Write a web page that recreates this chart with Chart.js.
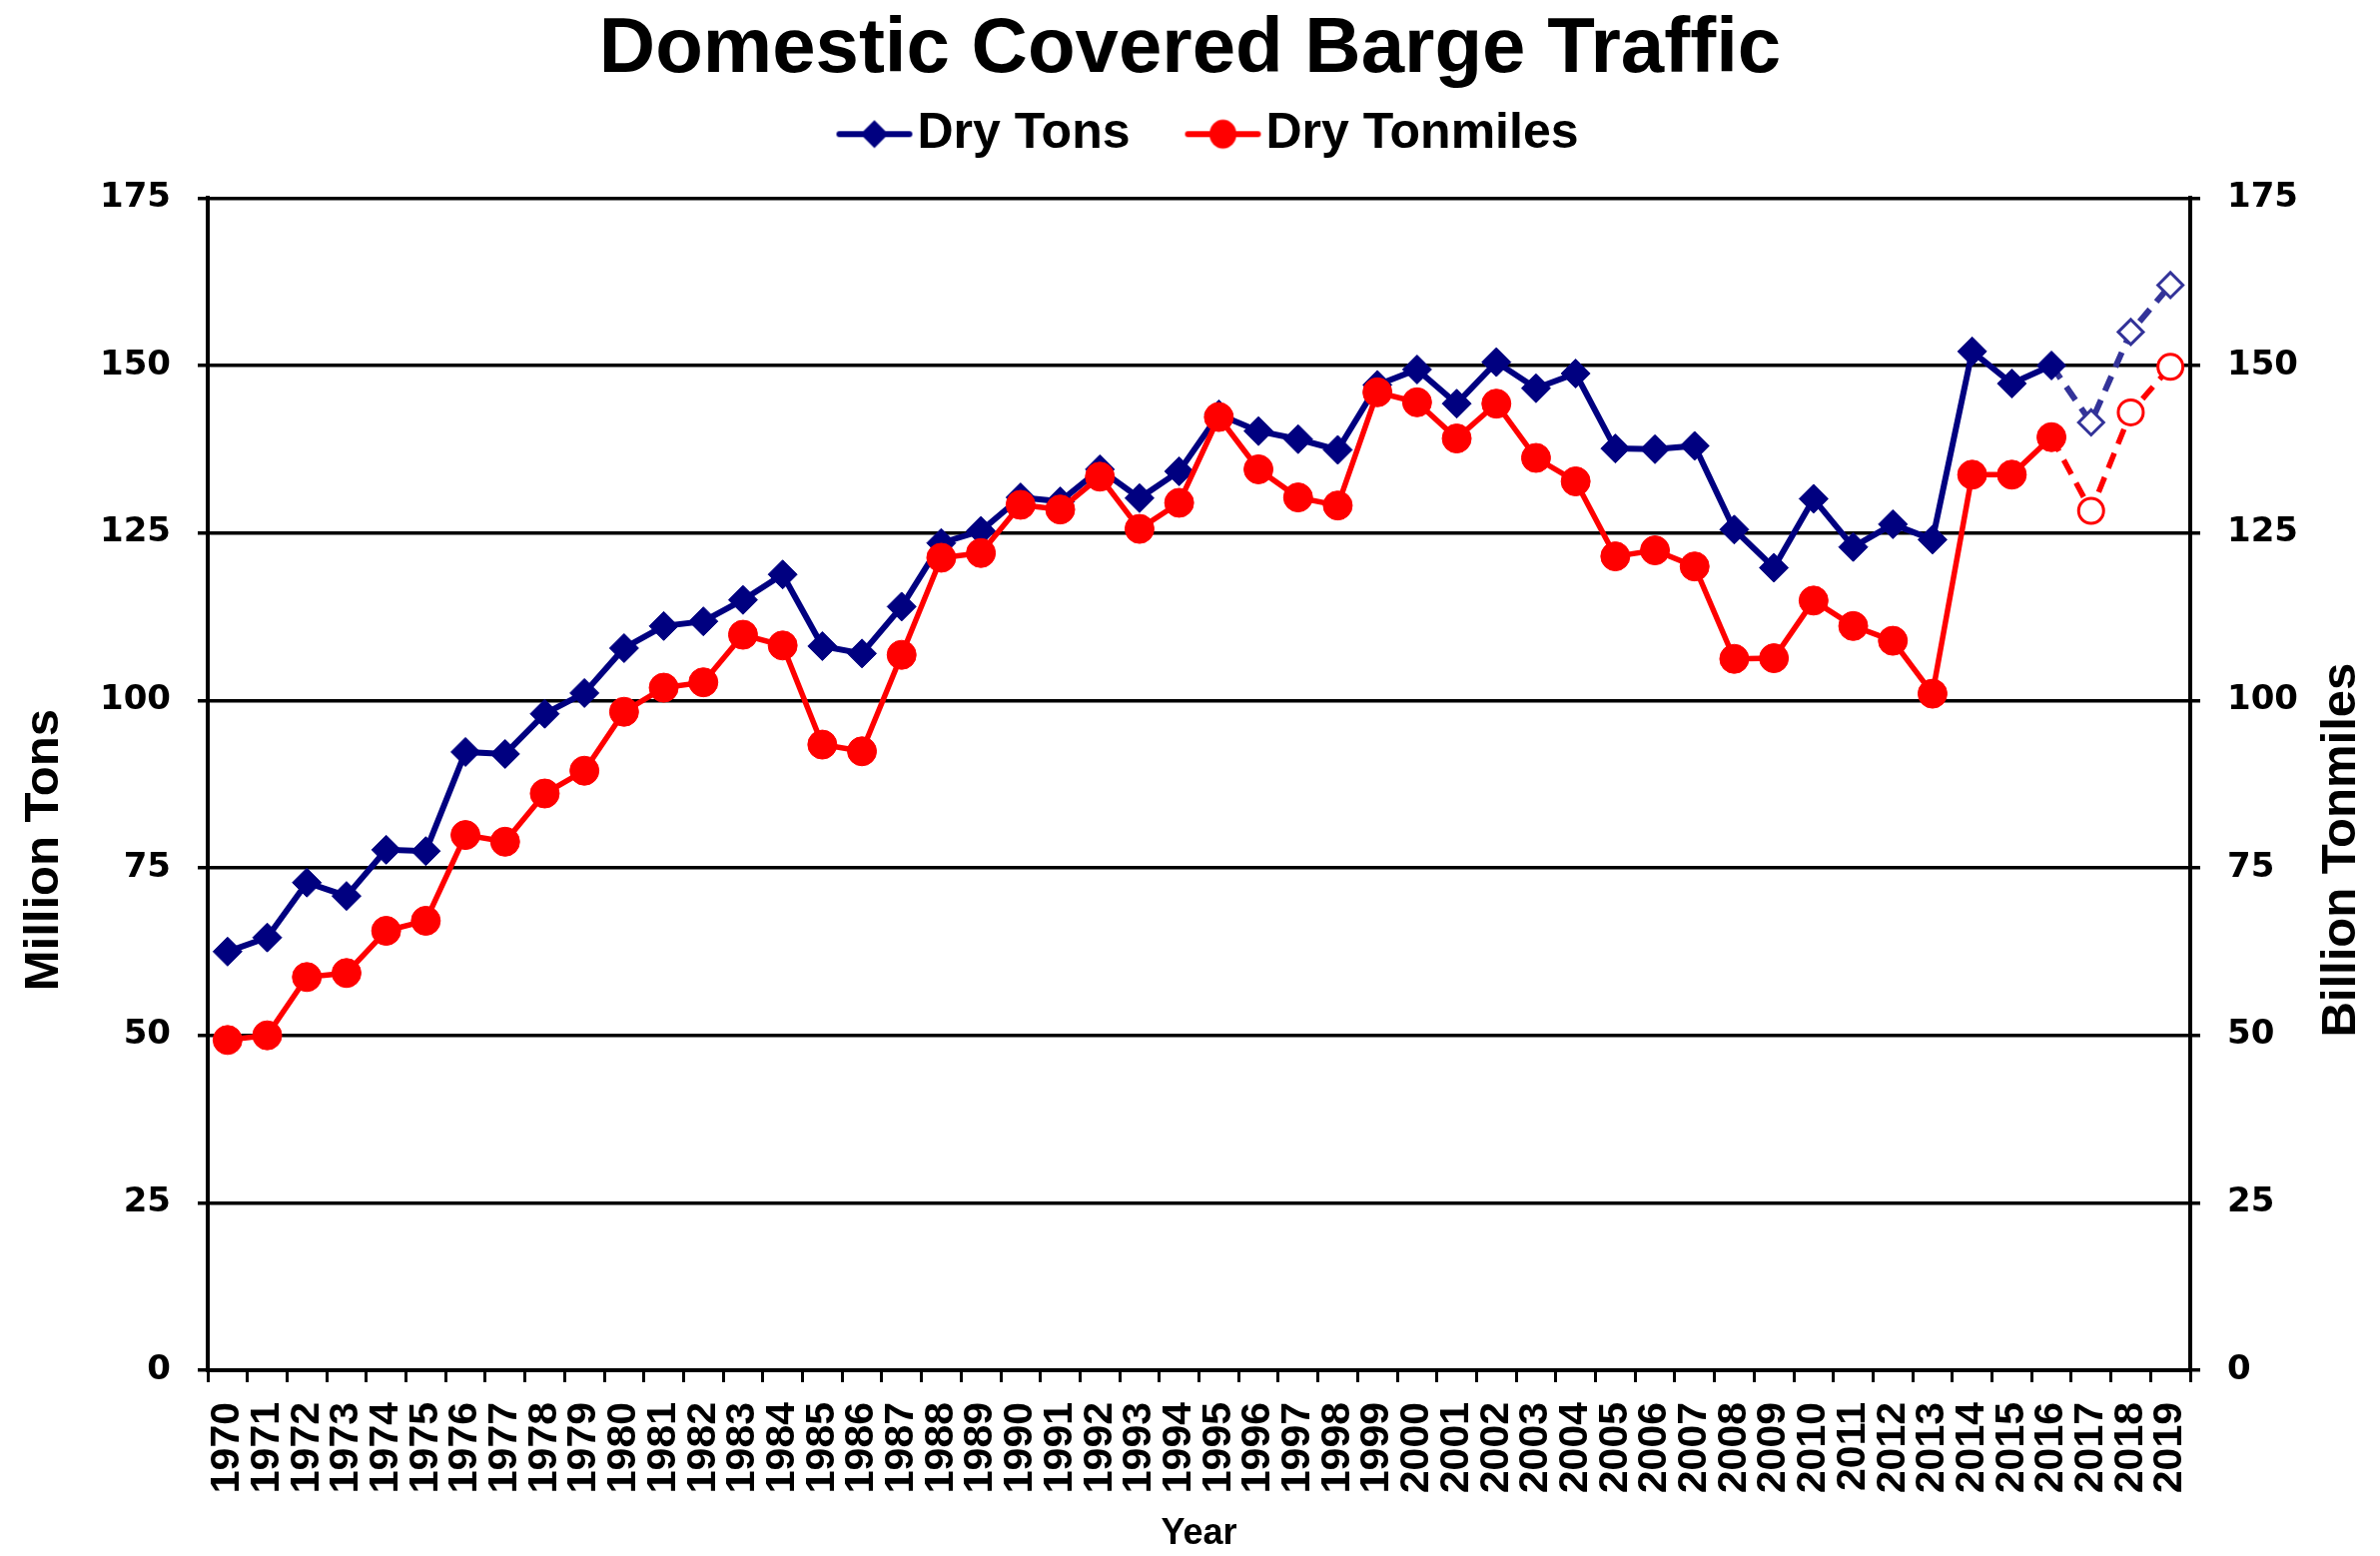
<!DOCTYPE html>
<html>
<head>
<meta charset="utf-8">
<title>Domestic Covered Barge Traffic</title>
<script src="https://cdn.jsdelivr.net/npm/chart.js@4/dist/chart.umd.min.js"></script>
<style>
  html, body { margin: 0; padding: 0; background: #fff; }
  #wrap { width: 2383px; height: 1558px; }
</style>
</head>
<body>
<div id="wrap"><canvas id="bargeChart" width="2383" height="1558"></canvas></div>
<script>
// ---------- data ----------
const years = [
  '1970','1971','1972','1973','1974','1975','1976','1977','1978','1979',
  '1980','1981','1982','1983','1984','1985','1986','1987','1988','1989',
  '1990','1991','1992','1993','1994','1995','1996','1997','1998','1999',
  '2000','2001','2002','2003','2004','2005','2006','2007','2008','2009',
  '2010','2011','2012','2013','2014','2015','2016','2017','2018','2019'
];

// million tons (left axis)
const dryTons = [
  62.5, 64.6, 72.8, 70.8, 77.7, 77.5, 92.3, 92.0, 98.0, 101.1,
  107.8, 111.1, 111.8, 115.0, 118.8, 108.1, 107.0, 114.0, 123.5, 125.3,
  130.3, 129.7, 134.5, 130.2, 134.2, 142.7, 140.2, 139.0, 137.4, 147.1,
  149.4, 144.3, 150.5, 146.6, 148.8, 137.6, 137.5, 138.0, 125.5, 119.8,
  130.1, 122.9, 126.3, 124.0, 152.1, 147.3, 150.0, 141.5, 155.0, 162.0
];

// billion ton-miles (right axis)
const dryTonmiles = [
  49.3, 50.0, 58.7, 59.3, 65.6, 67.1, 79.9, 78.9, 86.1, 89.5,
  98.3, 101.9, 102.7, 109.8, 108.2, 93.4, 92.4, 106.8, 121.3, 122.0,
  129.2, 128.5, 133.4, 125.6, 129.5, 142.3, 134.5, 130.3, 129.1, 146.0,
  144.5, 139.1, 144.3, 136.2, 132.7, 121.5, 122.4, 120.0, 106.2, 106.3,
  114.9, 111.1, 108.9, 101.0, 133.7, 133.7, 139.3, 128.3, 143.0, 149.8
];

// years shown as projections (dashed line, open markers)
const projectedYears = ['2017', '2018', '2019'];

const yTicks = [0, 25, 50, 75, 100, 125, 150, 175];

// ---------- style ----------
const NAVY = '#000080';
const NAVY_PROJ = '#333399';
const RED = '#ff0000';
const BLACK = '#000000';
const FONT = '"Liberation Sans", Arial, sans-serif';
const LEGEND_SIZE = 50;
const LEGEND_BOX = 91;
const projStart = years.indexOf(projectedYears[0]);
const isProj = i => i >= projStart;

// legend swatch: line with marker, drawn to a small canvas
function legendSwatch(color, shape) {
  const c = document.createElement('canvas');
  c.width = 78; c.height = 34;
  const g = c.getContext('2d');
  g.strokeStyle = color; g.fillStyle = color;
  g.lineWidth = 6; g.lineCap = 'round';
  g.beginPath(); g.moveTo(4, 17); g.lineTo(74, 17); g.stroke();
  g.beginPath();
  if (shape === 'diamond') {
    g.moveTo(39, 3); g.lineTo(53, 17); g.lineTo(39, 31); g.lineTo(25, 17); g.closePath();
  } else {
    g.ellipse(39, 17, 13.5, 14.5, 0, 0, Math.PI * 2);
  }
  g.fill();
  return c;
}
const swatches = [legendSwatch(NAVY, 'diamond'), legendSwatch(RED, 'circle')];

// draws the line+marker swatch just before each legend text
const legendSwatches = {
  id: 'legendSwatches',
  afterDraw(chart) {
    const boxes = chart.legend && chart.legend.legendHitBoxes;
    if (!boxes) return;
    const ctx = chart.ctx;
    boxes.forEach((hb, i) => {
      const textX = hb.left + LEGEND_BOX + LEGEND_SIZE / 2;
      const cy = hb.top + hb.height / 2;
      ctx.drawImage(swatches[i], textX - 82, cy - 17);
    });
  }
};

// axis titles drawn upright-reading (both sides read bottom to top)
const sideTitles = {
  id: 'sideTitles',
  afterDraw(chart) {
    const { ctx, chartArea } = chart;
    const cy = (chartArea.top + chartArea.bottom) / 2 + 66;
    ctx.save();
    ctx.font = 'bold 49px ' + FONT;
    ctx.fillStyle = BLACK;
    ctx.textAlign = 'center';
    ctx.textBaseline = 'middle';
    [[44, 'Million Tons'], [chartArea.right + 151, 'Billion Tonmiles']].forEach(([x, t]) => {
      ctx.save();
      ctx.translate(x, cy);
      ctx.rotate(-Math.PI / 2);
      ctx.fillText(t, 0, 0);
      ctx.restore();
    });
    ctx.restore();
  }
};

const yTickFont = { family: '"DejaVu Sans", sans-serif', weight: 'bold', size: 34 };

new Chart(document.getElementById('bargeChart'), {
  type: 'line',
  data: {
    labels: years,
    datasets: [
      {
        label: 'Dry Tons',
        data: dryTons,
        yAxisID: 'y',
        order: 2,
        borderColor: NAVY,
        borderWidth: 6,
        tension: 0,
        pointStyle: 'rectRot',
        pointRadius: c => isProj(c.dataIndex) ? 12.5 : 14.5,
        pointBorderWidth: c => isProj(c.dataIndex) ? 3 : 1,
        pointBackgroundColor: c => isProj(c.dataIndex) ? '#ffffff' : NAVY,
        pointBorderColor: c => isProj(c.dataIndex) ? NAVY_PROJ : NAVY,
        segment: {
          borderDash: s => isProj(s.p1DataIndex) ? [16, 10] : undefined,
          borderColor: s => isProj(s.p1DataIndex) ? NAVY_PROJ : undefined
        }
      },
      {
        label: 'Dry Tonmiles',
        data: dryTonmiles,
        yAxisID: 'y2',
        order: 1,
        borderColor: RED,
        borderWidth: 5.5,
        tension: 0,
        pointStyle: 'circle',
        pointRadius: c => isProj(c.dataIndex) ? 12.5 : 14.5,
        pointBorderWidth: c => isProj(c.dataIndex) ? 3 : 1,
        pointBackgroundColor: c => isProj(c.dataIndex) ? '#ffffff' : RED,
        pointBorderColor: RED,
        segment: {
          borderDash: s => isProj(s.p1DataIndex) ? [16, 10] : undefined
        }
      }
    ]
  },
  options: {
    responsive: false,
    animation: false,
    layout: { padding: 0 },
    plugins: {
      title: {
        display: true,
        text: 'Domestic Covered Barge Traffic',
        color: BLACK,
        font: { family: FONT, weight: 'bold', size: 78, lineHeight: 0.26 },
        padding: { top: 40, bottom: 0 }
      },
      legend: {
        display: true,
        position: 'top',
        labels: {
          color: BLACK,
          font: { family: FONT, weight: 'bold', size: LEGEND_SIZE },
          boxWidth: LEGEND_BOX,
          boxHeight: 108,
          padding: 20,
          generateLabels: () => [
            { text: 'Dry Tons', fillStyle: 'rgba(0,0,0,0)', strokeStyle: 'rgba(0,0,0,0)', lineWidth: 0, datasetIndex: 0, fontColor: BLACK },
            { text: 'Dry Tonmiles', fillStyle: 'rgba(0,0,0,0)', strokeStyle: 'rgba(0,0,0,0)', lineWidth: 0, datasetIndex: 1, fontColor: BLACK }
          ]
        }
      },
      tooltip: { enabled: false }
    },
    scales: {
      x: {
        type: 'category',
        offset: true,
        grid: { offset: true, drawOnChartArea: false, color: BLACK, lineWidth: 3, tickLength: 12 },
        border: { color: BLACK, width: 4 },
        ticks: {
          autoSkip: false, minRotation: 90, maxRotation: 90, padding: 20, color: BLACK,
          font: { family: FONT, weight: 'bold', size: 41 }
        },
        title: { display: true, text: 'Year', color: BLACK, padding: 0, font: { family: FONT, weight: 'bold', size: 36 } },
        afterFit: s => { s.height = 186; }
      },
      y: {
        position: 'left',
        min: 0, max: 175,
        afterBuildTicks: s => { s.ticks = yTicks.map(v => ({ value: v })); },
        ticks: { padding: 27, color: BLACK, font: yTickFont },
        grid: { color: BLACK, lineWidth: 3.5, tickLength: 10 },
        border: { color: BLACK, width: 4 },
        afterFit: s => { s.width = 208; }
      },
      y2: {
        position: 'right',
        min: 0, max: 175,
        afterBuildTicks: s => { s.ticks = yTicks.map(v => ({ value: v })); },
        ticks: { padding: 27, color: BLACK, font: yTickFont },
        grid: { drawOnChartArea: false, color: BLACK, lineWidth: 3.5, tickLength: 10 },
        border: { color: BLACK, width: 4 },
        afterFit: s => { s.width = 190; }
      }
    }
  },
  plugins: [legendSwatches, sideTitles]
});
</script>
</body>
</html>
